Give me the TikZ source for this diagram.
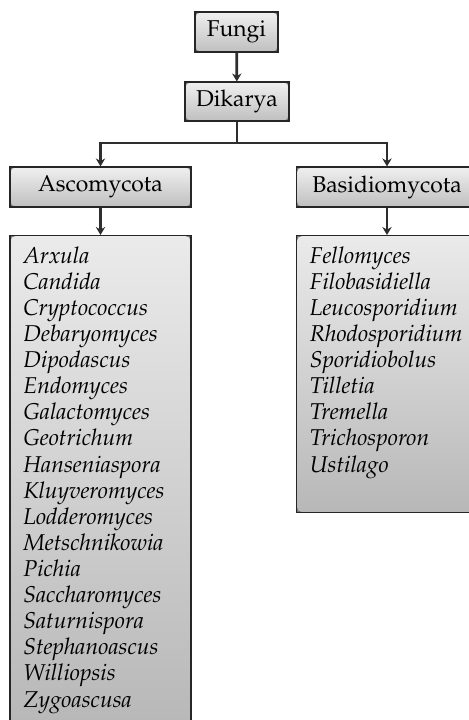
\documentclass[tikz,border=0pt]{standalone}
\usepackage[T1]{fontenc}
\usepackage{mathpazo}
\usetikzlibrary{arrows.meta}

\tikzset{
  corners/.style={path picture={
      \fill[black!55] (path picture bounding box.north west) -- +(3pt,0) -- +(0.8pt,-0.8pt) -- +(0,-3pt) -- cycle;
      \fill[black!55] (path picture bounding box.north east) -- +(-3pt,0) -- +(-0.8pt,-0.8pt) -- +(0,-3pt) -- cycle;
      \fill[black!55] (path picture bounding box.south west) -- +(3pt,0) -- +(0.8pt,0.8pt) -- +(0,3pt) -- cycle;
      \fill[black!55] (path picture bounding box.south east) -- +(-3pt,0) -- +(-0.8pt,0.8pt) -- +(0,3pt) -- cycle;
  }},
  taxon/.style={draw=black!85,line width=0.5pt,top color=black!6,bottom color=black!25,
    corners,minimum height=18pt,inner sep=2pt,font=\fontsize{10.3}{11.7}\selectfont},
  genera/.style={taxon,anchor=north,inner xsep=6pt,inner ysep=5pt,top color=black!8,
    bottom color=black!28,minimum width=81.45pt,font=\fontsize{10.3}{11.75}\selectfont\itshape},
  link/.style={draw=black!82,line width=1.25pt},
  conn/.style={link,-{Stealth[length=3.6pt,width=4.2pt]}},
}

\begin{document}
\begin{tikzpicture}[x=0.45pt,y=-0.45pt]
        \useasboundingbox (0,0) rectangle (469,720);
        %% Ranks
        \node[taxon,minimum width=37.35pt] (fungi) at (236.5,32) {Fungi};
        \node[taxon,minimum width=46.8pt,minimum height=17.55pt] (dik) at (237,101.5) {Dikarya};
        \node[taxon,minimum width=81.45pt] (asc) at (100.5,187) {Ascomycota};
        \node[taxon,minimum width=81.45pt] (bas) at (387,187) {Basidiomycota};
        %% Genera
        \node[genera] (asclist) at (100.5,235) {\parbox[t][210.5pt][t]{69.45pt}{%
            Arxula\\ Candida\\ Cryptococcus\\ Debaryomyces\\ Dipodascus\\ Endomyces\\
            Galactomyces\\ Geotrichum\\ Hanseniaspora\\ Kluyveromyces\\ Lodderomyces\\
            Metschnikowia\\ Pichia\\ Saccharomyces\\ Saturnispora\\ Stephanoascus\\
            Williopsis\\ Zygoascusa}};
        \node[genera] (baslist) at (387,235) {\parbox[t][114.65pt][t]{69.45pt}{%
            Fellomyces\\ Filobasidiella\\ Leucosporidium\\ Rhodosporidium\\ Sporidiobolus\\
            Tilletia\\ Tremella\\ Trichosporon\\ Ustilago}};
        %% Arrows
        \coordinate (split) at (0,143);
        \draw[conn] (fungi) -- (dik);
        \draw[link] (dik.south) -- (dik.south |- split);
        \draw[conn] (dik.south |- split) -| (asc.north);
        \draw[conn] (dik.south |- split) -| (bas.north);
        \draw[conn] (asc) -- (asclist);
        \draw[conn] (bas) -- (baslist);
\end{tikzpicture}
\end{document}
